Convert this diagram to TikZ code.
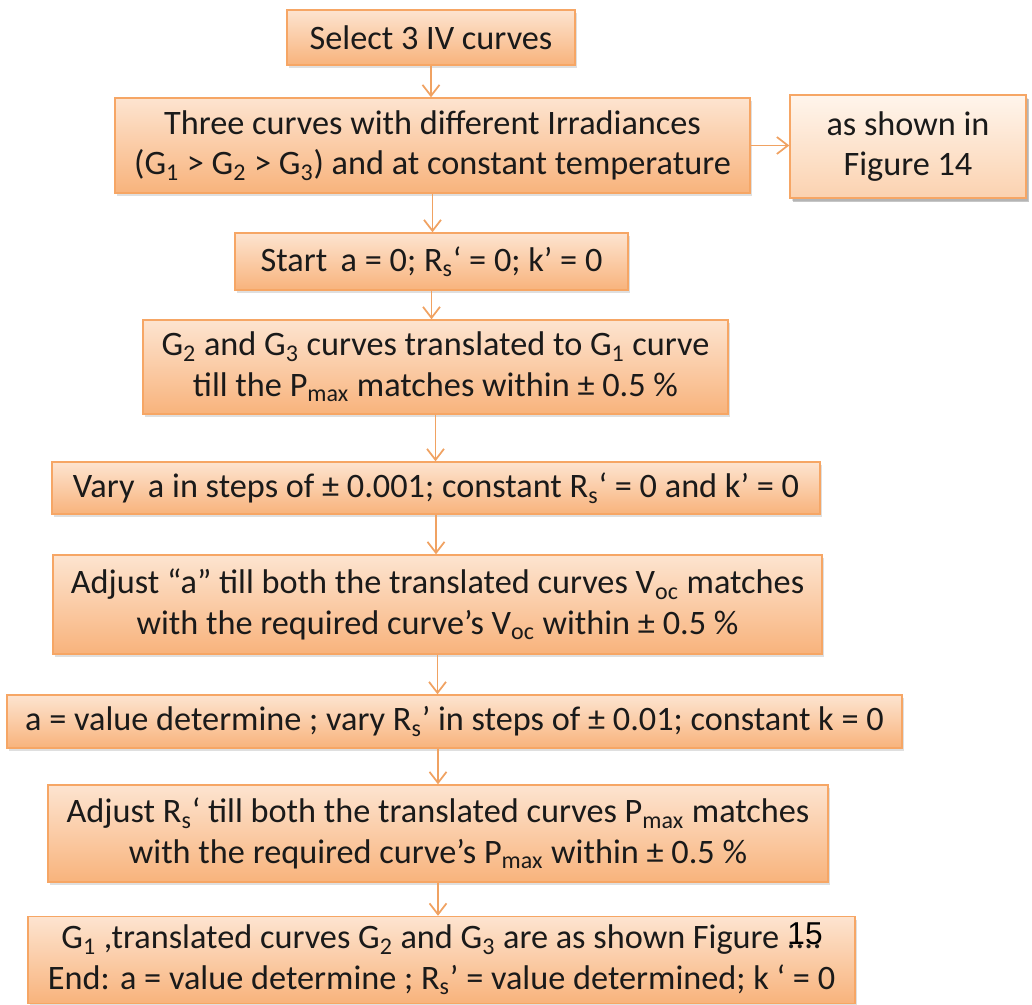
\documentclass[tikz,border=0pt]{standalone}
\usepackage{fontspec}
\setmainfont{Carlito}
\newfontfamily\arialfont{Liberation Sans}
\usetikzlibrary{arrows.meta, shadows}
\definecolor{cpeach}{HTML}{FDE4D0}
\definecolor{corange}{HTML}{F8B37C}
\definecolor{clight}{HTML}{FFF5EC}
\definecolor{csoft}{HTML}{FBD2B0}
\definecolor{cedge}{HTML}{F6A665}
\definecolor{carrow}{HTML}{F0A262}
\definecolor{ctext}{HTML}{1A1A1A}
\tikzset{
  every picture/.style={font=\fontsize{19.5}{23}\selectfont, line width=0.8pt},
  stepbox/.style={draw=cedge, top color=cpeach, bottom color=corange, align=center, inner sep=2pt, text=ctext,
    drop shadow={shadow xshift=0.4mm, shadow yshift=-0.6mm, opacity=0.25}},
  arrow/.style={-{Straight Barb[length=2.2mm, width=3.4mm]}, draw=carrow, line width=1pt},
}

\begin{document}
\begin{tikzpicture}
  \useasboundingbox (0,0) rectangle (20.64,-20.1);
  \node[stepbox, minimum width=5.76cm, minimum height=1.10cm] (s1) at (8.62,-0.75) {Select 3 IV curves};
  \node[stepbox, minimum width=12.7cm, minimum height=1.9cm] (s2) at (8.65,-2.91)
    {Three curves with different Irradiances\\(G\textsubscript{1} > G\textsubscript{2} > G\textsubscript{3}) and at constant temperature};
  \node[stepbox, top color=clight, bottom color=csoft, minimum width=4.72cm, minimum height=2.06cm,
    drop shadow={shadow xshift=0.6mm, shadow yshift=-0.8mm, opacity=0.45}] (s3) at (18.16,-2.93) {as shown in\\Figure 14};
  \node[stepbox, minimum width=7.86cm, minimum height=1.14cm] (s4) at (8.63,-5.23)
    {Start\, a = 0; R\textsubscript{s}‘ = 0; k’ = 0};
  \node[stepbox, minimum width=11.7cm, minimum height=1.88cm] (s5) at (8.71,-7.34)
    {G\textsubscript{2} and G\textsubscript{3} curves translated to G\textsubscript{1} curve\\till the P\textsubscript{max} matches within ± 0.5 \%};
  \node[stepbox, minimum width=15.36cm, minimum height=1.04cm] (s6) at (8.72,-9.76)
    {Vary\, a in steps of ± 0.001; constant R\textsubscript{s}‘ = 0 and k’ = 0};
  \node[stepbox, minimum width=15.38cm, minimum height=1.98cm] (s7) at (8.75,-12.09)
    {Adjust “a” till both the translated curves V\textsubscript{oc} matches\\with the required curve’s V\textsubscript{oc} within ± 0.5 \%};
  \node[stepbox, minimum width=17.9cm, minimum height=1.06cm] (s8) at (9.09,-14.43)
    {a = value determine ; vary R\textsubscript{s}’ in steps of ± 0.01; constant k = 0};
  \node[stepbox, minimum width=15.6cm, minimum height=1.94cm] (s9) at (8.76,-16.67)
    {Adjust R\textsubscript{s}‘ till both the translated curves P\textsubscript{max} matches\\with the required curve’s P\textsubscript{max} within ± 0.5 \%};
  \node[stepbox, minimum width=16.54cm, minimum height=1.74cm] (s10) at (8.83,-19.2)
    {G\textsubscript{1} ,translated curves G\textsubscript{2} and G\textsubscript{3} are as shown Figure ....\\End: a = value determine ; R\textsubscript{s}’ = value determined; k ‘ = 0};
  \node[font=\arialfont\fontsize{18}{20}\selectfont, inner sep=0pt] (fig15) at (16.1,-18.68) {15};
  % arrows down the chart
  \foreach \a/\b in {s1/s2, s2/s4, s4/s5, s5/s6, s6/s7, s7/s8, s9/s10}
    \draw[arrow] (\a.south) -- (\a.south |- \b.north);
  \draw[arrow] (s8.south -| s9.north) -- (s9.north);
  \draw[arrow] (s2.east) -- (s3.west |- s2.east);
\end{tikzpicture}
\end{document}
